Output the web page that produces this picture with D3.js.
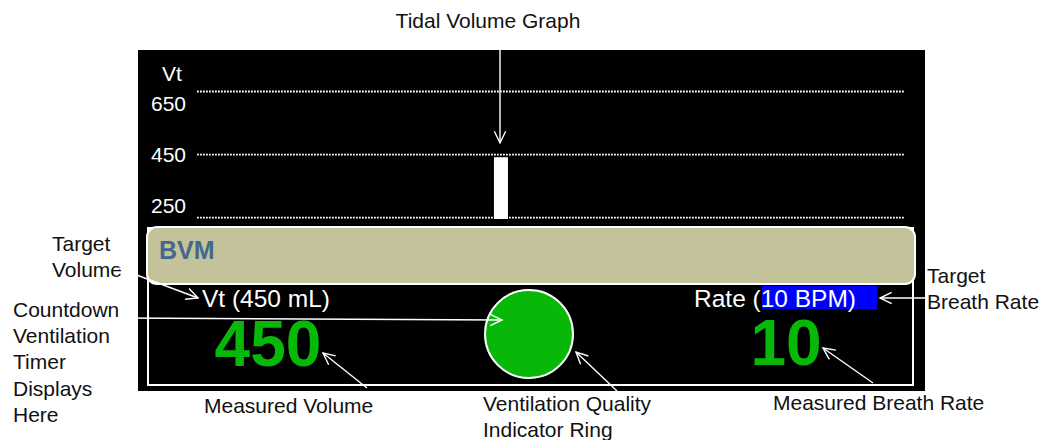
<!DOCTYPE html>
<html>
<head>
<meta charset="utf-8">
<script src="https://cdn.jsdelivr.net/npm/d3@7"></script>
<style>
  html, body { margin: 0; padding: 0; background: #fff; }
  svg { display: block; font-family: "Liberation Sans", Arial, sans-serif; }
</style>
</head>
<body>
<svg id="chart" width="1049" height="440"></svg>
<script>
// ---- data ----
const volumeTicks = [250, 450, 650];
const tickLabels = ["250", "450", "650"];
const breathTimes = [21];          // breath position along the time axis
const breathVolumes = [440];       // tidal volume of each breath (mL)
const modeLabel = "BVM";
const targetVolume = 450;
const measuredVolume = 450;
const targetRate = 10;
const measuredRate = 10;
const annotationTexts = [
  ["Tidal Volume Graph"],
  ["Target", "Volume"],
  ["Countdown", "Ventilation", "Timer", "Displays", "Here"],
  ["Measured Volume"],
  ["Ventilation Quality", "Indicator Ring"],
  ["Target", "Breath Rate"],
  ["Measured Breath Rate"]
];

// ---- layout ----
const svg = d3.select("#chart");
const green = "#08b808";
const white = "#ffffff";

// black monitor panel
svg.append("rect").attr("x", 138).attr("y", 50).attr("width", 787).attr("height", 341).attr("fill", "#000");

// scales
const x = d3.scaleLinear().domain([0, 50]).range([197, 904]);
const y = d3.scaleLinear().domain([244, 650]).range([219, 91]);
const yLabel = d3.scaleLinear().domain([250, 650]).range([205.5, 103]);

// gridlines via axis
const grid = svg.append("g")
  .attr("transform", `translate(${x.range()[0]},0)`)
  .call(d3.axisRight(y).tickValues(volumeTicks).tickSize(x.range()[1] - x.range()[0]).tickFormat(""));
grid.select(".domain").remove();
grid.selectAll(".tick line")
  .attr("stroke", white).attr("stroke-width", 1.8).attr("stroke-dasharray", "1.8,1.2");

// tick labels
svg.append("g").selectAll("text").data(volumeTicks).join("text")
  .attr("x", 151).attr("y", d => yLabel(d)).attr("dy", "0.36em")
  .attr("fill", white).attr("font-size", 21)
  .text((d, i) => tickLabels[i]);
svg.append("text").attr("x", 162).attr("y", 81).attr("fill", white).attr("font-size", 21).text("Vt");

// breath bars
svg.append("g").selectAll("rect").data(breathVolumes).join("rect")
  .attr("x", (d, i) => x(breathTimes[i]))
  .attr("width", 14)
  .attr("y", d => y(d))
  .attr("height", d => y(y.domain()[0]) - y(d))
  .attr("fill", white);

// lower panel outline
svg.append("rect").attr("x", 148).attr("y", 228).attr("width", 765).attr("height", 157)
  .attr("fill", "none").attr("stroke", white).attr("stroke-width", 2);
// mode banner
svg.append("rect").attr("x", 147).attr("y", 227).attr("width", 768).attr("height", 57).attr("rx", 10)
  .attr("fill", "#c4c29a").attr("stroke", white).attr("stroke-width", 2);
svg.append("text").attr("x", 159).attr("y", 259).attr("fill", "#45688a")
  .attr("font-size", 25).attr("font-weight", "bold").text(modeLabel);

// target volume
svg.append("text").attr("x", 202).attr("y", 307).attr("fill", white).attr("font-size", 24.5)
  .text(`Vt (${targetVolume} mL)`);

// target rate with highlight
const pre = "Rate (";
svg.append("rect")
  .attr("x", 762).attr("y", 286).attr("width", 115).attr("height", 23).attr("fill", "#0000ff");
svg.append("text").attr("x", 694).attr("y", 307).attr("fill", white).attr("font-size", 24.5)
  .text(`${pre}${targetRate} BPM)`);

// measured values
svg.append("text").attr("x", 268).attr("y", 366).attr("text-anchor", "middle")
  .attr("fill", green).attr("font-size", 64).attr("font-weight", "bold").text(measuredVolume);
svg.append("text").attr("x", 786).attr("y", 365).attr("text-anchor", "middle")
  .attr("fill", green).attr("font-size", 64).attr("font-weight", "bold").text(measuredRate);

// ventilation quality ring
svg.append("circle").attr("cx", 529).attr("cy", 334).attr("r", 44)
  .attr("fill", green).attr("stroke", white).attr("stroke-width", 2);

// annotation texts
const textPos = [
  {x: 488, y: 28, anchor: "middle"},
  {x: 52, y: 251},
  {x: 13, y: 317},
  {x: 204, y: 413},
  {x: 483, y: 411},
  {x: 927, y: 283},
  {x: 773, y: 410}
];
annotationTexts.forEach((lines, i) => {
  const p = textPos[i];
  const t = svg.append("text").attr("x", p.x).attr("y", p.y).attr("fill", "#111")
    .attr("font-size", 21).attr("text-anchor", p.anchor || "start");
  lines.forEach((l, j) => {
    t.append("tspan").attr("x", p.x).attr("dy", j === 0 ? 0 : 26.2).text(l);
  });
});

// annotation arrows
const arrows = [
  [500, 33, 500, 143],
  [118, 268, 198, 298],
  [120, 318, 502, 320],
  [367, 388, 323, 353],
  [617, 391, 576, 352],
  [928, 298, 880, 298],
  [873, 383, 823, 348]
];
const ag = svg.append("g").attr("stroke", white).attr("stroke-width", 1.4).attr("fill", "none");
arrows.forEach(([x1, y1, x2, y2]) => {
  ag.append("line").attr("x1", x1).attr("y1", y1).attr("x2", x2).attr("y2", y2);
  const ang = Math.atan2(y2 - y1, x2 - x1);
  const L = 13, a = 0.45;
  const p1 = [x2 - L * Math.cos(ang - a), y2 - L * Math.sin(ang - a)];
  const p2 = [x2 - L * Math.cos(ang + a), y2 - L * Math.sin(ang + a)];
  ag.append("path").attr("d", `M${p1[0]},${p1[1]}L${x2},${y2}L${p2[0]},${p2[1]}`);
});
</script>
</body>
</html>
